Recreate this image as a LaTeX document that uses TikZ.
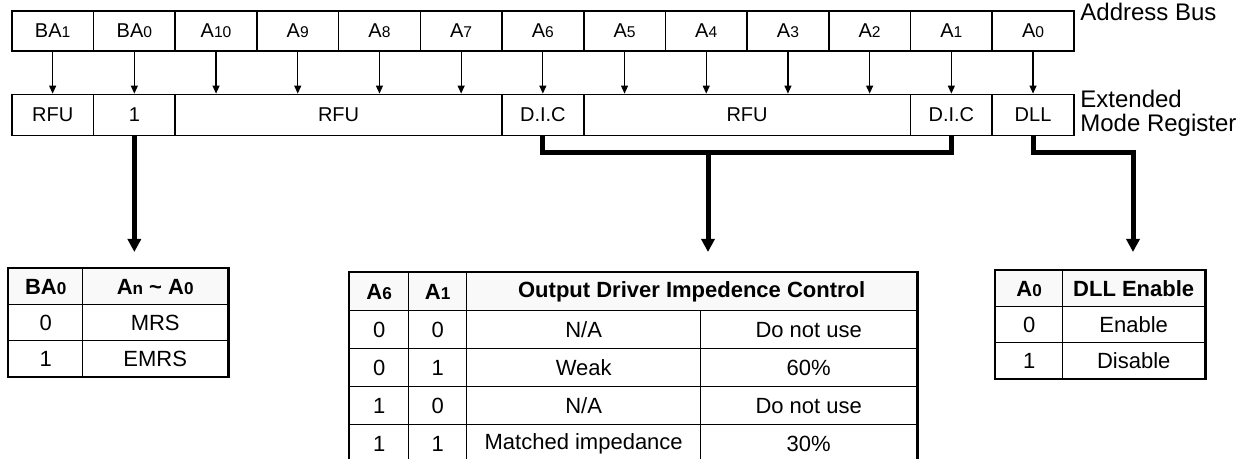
\documentclass[tikz,border=0pt]{standalone}
\usepackage{fontspec}
\setmainfont{Liberation Sans}
\usetikzlibrary{arrows.meta}
\tikzset{>={Triangle[width=3.5pt,length=4pt]}}
\newcommand\ix[1]{\scalebox{0.78}{#1}}
\tikzstyle{bus cell}=[draw,line width=0.8pt,anchor=north west,inner sep=0pt,
  minimum width=40.85pt,minimum height=20pt,font=\fontsize{10}{12}\selectfont]
\tikzstyle{reg cell}=[bus cell,minimum height=20.5pt]
\tikzstyle{bus arrow}=[->,line width=0.6pt]
\tikzstyle{field link}=[line width=2.5pt,line join=miter]
\tikzstyle{field arrow}=[field link,-{Triangle[width=6.5pt,length=6.5pt]}]
\tikzstyle{tab cell}=[draw,line width=0.7pt,anchor=north west,inner sep=0pt,
  font=\fontsize{11}{13}\selectfont]
\tikzstyle{tab head}=[tab cell,fill=gray!5,font=\fontsize{11}{13}\selectfont\bfseries]
\tikzstyle{tab frame}=[line width=1.1pt]
\tikzstyle{side label}=[anchor=base west,inner sep=0pt,font=\fontsize{12}{14}\selectfont]

\begin{document}
\begin{tikzpicture}[x=0.5pt,y=-0.5pt]
  \useasboundingbox (0,0) rectangle (1250,459);
  % address bus
  \foreach \lab [count=\i from 0] in {BA\ix{1},BA\ix{0},A\ix{10},A\ix{9},A\ix{8},A\ix{7},
      A\ix{6},A\ix{5},A\ix{4},A\ix{3},A\ix{2},A\ix{1},A\ix{0}}
    \node[bus cell] (bus\i) at ({11+81.7*\i},10) {\lab};
  \node[side label] (busname) at (1080,21) {Address Bus};
  % extended mode register
  \node[reg cell] (rfuA) at ([yshift=-21pt]bus0.south west) {RFU};
  \node[reg cell] (one) at ([yshift=-21pt]bus1.south west) {1};
  \node[reg cell,minimum width=163.4pt] (rfuB) at ([yshift=-21pt]bus2.south west) {RFU};
  \node[reg cell] (dicA) at ([yshift=-21pt]bus6.south west) {D.I.C};
  \node[reg cell,minimum width=163.4pt] (rfuC) at ([yshift=-21pt]bus7.south west) {RFU};
  \node[reg cell] (dicB) at ([yshift=-21pt]bus11.south west) {D.I.C};
  \node[reg cell] (dll) at ([yshift=-21pt]bus12.south west) {DLL};
  \node[side label] (regname) at (1080,108) {Extended};
  \node[side label] (regname2) at (1080,132) {Mode Register};
  \foreach \i in {0,...,12}
    \draw[bus arrow] (bus\i.south) -- (bus\i.south |- rfuB.north);
  % field links
  \coordinate (tip) at (0,252);
  \coordinate (dicsplit) at (708,153);
  \coordinate (dllbend) at (1133,153);
  \draw[field arrow] (one.south) -- (one.south |- tip);
  \draw[field link] (dicA.south) |- (dicsplit) -| (dicB.south);
  \draw[field arrow] (dicsplit) -- (dicsplit |- tip);
  \draw[field arrow] (dll.south) |- (dllbend) -- (dllbend |- tip);
  % BA0 table
  \node[tab head,minimum width=37pt,minimum height=18pt] (baA) at (8,268) {BA\ix{0}};
  \node[tab head,minimum width=72.5pt,minimum height=18pt] (baB) at (82,268) {A\ix{n} \textasciitilde{} A\ix{0}};
  \foreach \v/\name [count=\r] in {0/MRS,1/EMRS} {
    \node[tab cell,minimum width=37pt,minimum height=18pt] (ba\r a) at (8,{268+36*\r}) {\v};
    \node[tab cell,minimum width=72.5pt,minimum height=18pt] (ba\r b) at (82,{268+36*\r}) {\name};
  }
  \draw[tab frame] (baA.north west) rectangle (ba2b.south east);
  % D.I.C table
  \node[tab head,minimum width=29.5pt,minimum height=19pt] (dicTA) at (349,272) {A\ix{6}};
  \node[tab head,minimum width=29pt,minimum height=19pt] (dicTB) at (408,272) {A\ix{1}};
  \node[tab head,minimum width=225pt,minimum height=19pt] (dicTC) at (466,272) {Output Driver Impedence Control};
  \foreach \a/\b/\mode/\pct [count=\r] in {0/0/{N/A}/Do not use,0/1/Weak/60\%,1/0/{N/A}/Do not use,1/1/Matched impedance/30\%} {
    \node[tab cell,minimum width=29.5pt,minimum height=19pt] (dic\r a) at (349,{272+38*\r}) {\a};
    \node[tab cell,minimum width=29pt,minimum height=19pt] (dic\r b) at (408,{272+38*\r}) {\b};
    \node[tab cell,minimum width=117pt,minimum height=19pt] (dic\r c) at (466,{272+38*\r}) {\mode};
    \node[tab cell,minimum width=108pt,minimum height=19pt] (dic\r d) at (700,{272+38*\r}) {\pct};
  }
  \draw[tab frame] (dicTA.north west) rectangle (dic4d.south east);
  % DLL table
  \node[tab head,minimum width=33.5pt,minimum height=18pt] (dllTA) at (995,270) {A\ix{0}};
  \node[tab head,minimum width=71pt,minimum height=18pt] (dllTB) at (1062,270) {DLL Enable};
  \foreach \v/\name [count=\r] in {0/Enable,1/Disable} {
    \node[tab cell,minimum width=33.5pt,minimum height=18pt] (dll\r a) at (995,{270+36*\r}) {\v};
    \node[tab cell,minimum width=71pt,minimum height=18pt] (dll\r b) at (1062,{270+36*\r}) {\name};
  }
  \draw[tab frame] (dllTA.north west) rectangle (dll2b.south east);
\end{tikzpicture}
\end{document}
